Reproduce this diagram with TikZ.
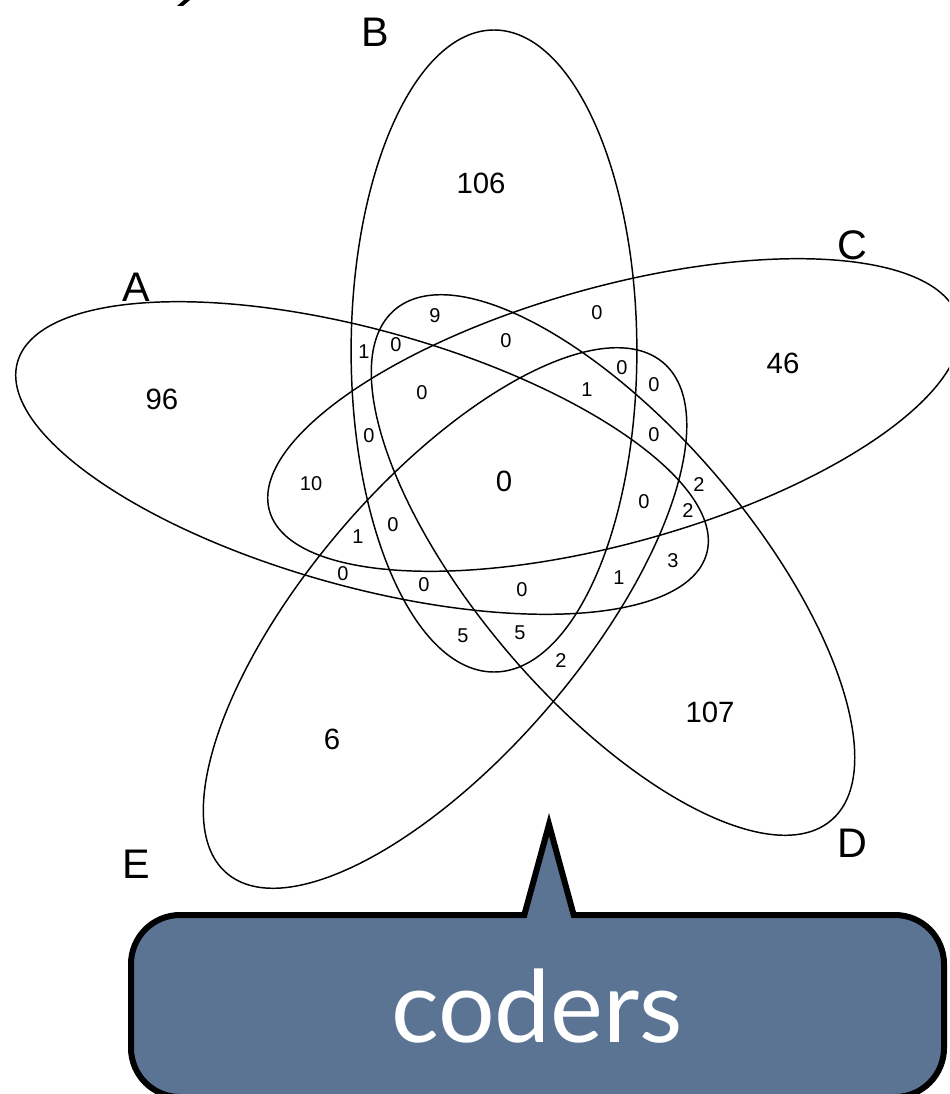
\documentclass[tikz,border=0pt]{standalone}
\usepackage{fontspec}
\setmainfont{Liberation Sans}
\newfontfamily\calloutfont{Lato}
\definecolor{calloutblue}{RGB}{92,116,148}
\begin{document}
\begin{tikzpicture}[x=0.75pt,y=-0.75pt,
  vennline/.style={line width=1.1pt},
  bignum/.style={inner sep=0pt,font=\fontsize{22}{22}\selectfont},
  smallnum/.style={inner sep=0pt,font=\fontsize{15}{15}\selectfont},
  setlabel/.style={inner sep=0pt,font=\fontsize{31}{31}\selectfont},
  callout/.style={line width=4.5pt,draw=black,fill=calloutblue,line join=miter,miter limit=20}]
\useasboundingbox (0,0) rectangle (949,1094);
\clip (0,0) rectangle (949,1094);

% fragment at top-left edge
\fill (177,6) -- (183,6) -- (190,0) -- (184,0) -- cycle;

% five ellipses (base ellipse stretched horizontally)
\begin{scope}[xscale=1.125]
  \draw[vennline,rotate around={-18:(321.8,458)}] (321.8,458) ellipse [x radius=321,y radius=127];
  \draw[vennline,rotate around={90:(439.1,351)}] (439.1,351) ellipse [x radius=321,y radius=127];
  \draw[vennline,rotate around={18:(545.8,415)}] (545.8,415) ellipse [x radius=321,y radius=127];
  \draw[vennline,rotate around={-54:(544.9,565)}] (544.9,565) ellipse [x radius=321,y radius=127];
  \draw[vennline,rotate around={54:(395.6,618)}] (395.6,618) ellipse [x radius=321,y radius=127];
\end{scope}

% set labels
\node[setlabel] (lA) at (136,287) {A};
\node[setlabel] (lB) at (375,32) {B};
\node[setlabel] (lC) at (852,245) {C};
\node[setlabel] (lD) at (852,843) {D};
\node[setlabel] (lE) at (136,864) {E};

% large counts
\node[bignum] (nB) at (481,183) {106};
\node[bignum] (nA) at (162,399) {96};
\node[bignum] (nC) at (783,363) {46};
\node[bignum] (nD) at (710,712) {107};
\node[bignum] (nE) at (332,739) {6};
\node[bignum] (nAll) at (504,481) {0};

% small counts
\node[smallnum] (s1) at (435,316) {9};
\node[smallnum] (s2) at (364,352) {1};
\node[smallnum] (s3) at (396,345) {0};
\node[smallnum] (s4) at (506,341) {0};
\node[smallnum] (s5) at (597,313) {0};
\node[smallnum] (s6) at (422,393) {0};
\node[smallnum] (s7) at (587,390) {1};
\node[smallnum] (s8) at (622,368) {0};
\node[smallnum] (s9) at (654,385) {0};
\node[smallnum] (s10) at (654,435) {0};
\node[smallnum] (s11) at (369,436) {0};
\node[smallnum] (s12) at (311,484) {10};
\node[smallnum] (s13) at (358,537) {1};
\node[smallnum] (s14) at (393,525) {0};
\node[smallnum] (s15) at (343,574) {0};
\node[smallnum] (s16) at (424,585) {0};
\node[smallnum] (s17) at (522,590) {0};
\node[smallnum] (s18) at (463,636) {5};
\node[smallnum] (s19) at (520,633) {5};
\node[smallnum] (s20) at (561,661) {2};
\node[smallnum] (s21) at (619,578) {1};
\node[smallnum] (s22) at (673,561) {3};
\node[smallnum] (s23) at (644,502) {0};
\node[smallnum] (s24) at (688,511) {2};
\node[smallnum] (s25) at (699,485) {2};

% callout balloon
\path[callout] (131,1048) -- (131,964) arc[start angle=180,end angle=270,radius=49]
  -- (524.3,915) -- (549,824.5) -- (573.7,915)
  -- (895,915) arc[start angle=270,end angle=360,radius=49]
  -- (944,1048) arc[start angle=0,end angle=90,radius=49]
  -- (180,1097) arc[start angle=90,end angle=180,radius=49] -- cycle;
\node[anchor=base,inner sep=0pt,text=white,font=\calloutfont\fontsize{75}{75}\selectfont] (coders) at (537,1042) {coders};
\end{tikzpicture}
\end{document}
